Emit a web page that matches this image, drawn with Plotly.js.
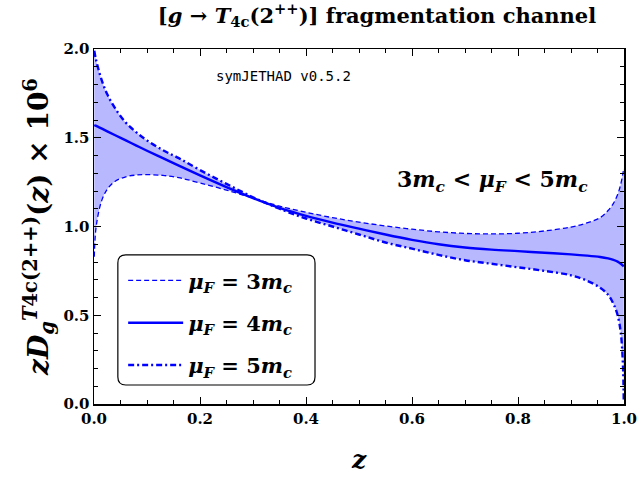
<!DOCTYPE html>
<html>
<head>
<meta charset="utf-8">
<script src="https://cdn.plot.ly/plotly-3.0.1.min.js"></script>
<style>
  html, body { margin: 0; padding: 0; background: #fff; }
  #chart { width: 639px; height: 481px; }
</style>
</head>
<body>
<div id="chart"></div>
<script>
// z grid and the three scale choices
var zVals = [0.0005, 0.003, 0.008, 0.015, 0.025, 0.04, 0.06, 0.08, 0.1, 0.13, 0.16, 0.2, 0.25, 0.3,
  0.35, 0.4, 0.45, 0.5, 0.55, 0.6, 0.65, 0.7, 0.75, 0.8, 0.85, 0.9, 0.93, 0.955, 0.97, 0.98,
  0.988, 0.994, 0.998, 0.9995];

var mu3 = [0.83, 0.97, 1.07, 1.15, 1.21, 1.255, 1.28, 1.29, 1.292, 1.288, 1.275, 1.245, 1.205, 1.16,
  1.115, 1.08, 1.05, 1.025, 1.003, 0.985, 0.97, 0.961, 0.958, 0.962, 0.975, 0.997, 1.02, 1.05,
  1.09, 1.13, 1.18, 1.24, 1.3, 1.33];

var mu4 = [1.572, 1.568, 1.561, 1.551, 1.536, 1.514, 1.485, 1.456, 1.427, 1.385, 1.343, 1.288, 1.222, 1.16,
  1.105, 1.06, 1.022, 0.988, 0.955, 0.925, 0.9, 0.882, 0.87, 0.861, 0.852, 0.843, 0.836, 0.828,
  0.82, 0.812, 0.802, 0.79, 0.78, 0.775];

var mu5 = [1.99, 1.95, 1.89, 1.82, 1.745, 1.665, 1.585, 1.53, 1.485, 1.43, 1.385, 1.318, 1.24, 1.165,
  1.10, 1.045, 1.0, 0.955, 0.91, 0.875, 0.84, 0.81, 0.79, 0.77, 0.75, 0.725, 0.695, 0.655,
  0.615, 0.565, 0.5, 0.4, 0.22, 0.02];

var legendNames = ['<b><i>μ<sub>F</sub></i> = 3<i>m<sub>c</sub></i></b>',
                   '<b><i>μ<sub>F</sub></i> = 4<i>m<sub>c</sub></i></b>',
                   '<b><i>μ<sub>F</sub></i> = 5<i>m<sub>c</sub></i></b>'];

var blue = '#0000ff';
var serif = 'DejaVu Serif, serif';

var data = [
  // band between the 3m_c and 5m_c curves
  { x: zVals, y: mu5, type: 'scatter', mode: 'lines', line: { width: 0, shape: 'spline' },
    showlegend: false, hoverinfo: 'skip' },
  { x: zVals, y: mu3, type: 'scatter', mode: 'lines', line: { width: 0, shape: 'spline' },
    fill: 'tonexty', fillcolor: 'rgba(0,0,255,0.28)', showlegend: false, hoverinfo: 'skip' },

  { x: zVals, y: mu3, type: 'scatter', mode: 'lines', name: legendNames[0], legendgroup: 'a',
    line: { color: blue, width: 1.3, dash: '5px,3px', shape: 'spline' } },
  { x: zVals, y: mu4, type: 'scatter', mode: 'lines', name: legendNames[1], legendgroup: 'b',
    line: { color: blue, width: 2.4, shape: 'spline' } },
  { x: zVals, y: mu5, type: 'scatter', mode: 'lines', name: legendNames[2], legendgroup: 'c',
    line: { color: blue, width: 2.4, dash: '6px,3px,2px,3px', shape: 'spline' } }
];

var axisCommon = {
  showline: true, linecolor: '#000', linewidth: 1.5, mirror: 'allticks',
  ticks: 'inside', ticklen: 7, tickwidth: 1, tickcolor: '#000',
  showgrid: false, zeroline: false,
  tickfont: { family: serif, size: 15, color: '#000', weight: 'bold' }
};

var layout = {
  width: 639, height: 481,
  margin: { l: 94, r: 15, t: 49, b: 77 },
  paper_bgcolor: '#fff', plot_bgcolor: '#fff',
  font: { family: serif, color: '#000' },
  title: {
    text: '<b>[<i>g</i> → <i>T</i><sub>4c</sub>(2<sup>++</sup>)] fragmentation channel</b>',
    font: { family: serif, size: 21, color: '#000' },
    xref: 'paper', x: 0.534, xanchor: 'center',
    yref: 'container', y: 0.968, yanchor: 'middle'
  },
  xaxis: Object.assign({}, axisCommon, {
    range: [0, 1], tickvals: [0, 0.2, 0.4, 0.6, 0.8, 1.0], tickformat: '.1f',
    minor: { dtick: 0.05, ticks: 'inside', ticklen: 4, tickcolor: '#000', showgrid: false },
    title: { text: '<b><i>z</i></b>', font: { family: serif, size: 25, color: '#000' }, standoff: 24 }
  }),
  yaxis: Object.assign({}, axisCommon, {
    range: [0, 2], tickvals: [0, 0.5, 1.0, 1.5, 2.0], tickformat: '.1f',
    minor: { dtick: 0.1, ticks: 'inside', ticklen: 4, tickcolor: '#000', showgrid: false },
    title: {
      text: '<b><i>zD</i><sub><i>g</i></sub><sup><i>T</i>4c(2++)</sup>(<i>z</i>) × 10<sup>6</sup></b>',
      font: { family: serif, size: 28, color: '#000' }, standoff: 6
    }
  }),
  legend: {
    x: 0.055, y: 0.405, xanchor: 'left', yanchor: 'top',
    bgcolor: 'rgba(0,0,0,0)', borderwidth: 0,
    font: { family: serif, size: 21, color: '#000' },
    traceorder: 'grouped', tracegroupgap: 12, itemwidth: 55
  },
  shapes: [{
    type: 'path', xref: 'paper', yref: 'paper',
    path: 'M 0.06,0.0535 L 0.402,0.0535 Q 0.417,0.0535 0.417,0.076 L 0.417,0.3975 ' +
          'Q 0.417,0.42 0.402,0.42 L 0.06,0.42 Q 0.045,0.42 0.045,0.3975 L 0.045,0.076 ' +
          'Q 0.045,0.0535 0.06,0.0535 Z',
    line: { color: '#000', width: 1.2 }, fillcolor: 'rgba(255,255,255,1)', layer: 'below'
  }],
  annotations: [
    { xref: 'paper', yref: 'paper', x: (283 - 94) / 530, y: (404 - 76) / 355,
      xanchor: 'center', yanchor: 'middle',
      text: 'symJETHAD v0.5.2', showarrow: false,
      font: { family: 'DejaVu Sans Mono, Liberation Mono, monospace', size: 14, color: '#000' } },
    { xref: 'paper', yref: 'paper', x: (492 - 94) / 530, y: (404 - 181) / 355,
      xanchor: 'center', yanchor: 'middle',
      text: '<b>3<i>m<sub>c</sub></i> &lt; <i>μ<sub>F</sub></i> &lt; 5<i>m<sub>c</sub></i></b>',
      showarrow: false, font: { family: serif, size: 22, color: '#000' } }
  ]
};

Plotly.newPlot('chart', data, layout, { displayModeBar: false, staticPlot: true });
</script>
</body>
</html>
